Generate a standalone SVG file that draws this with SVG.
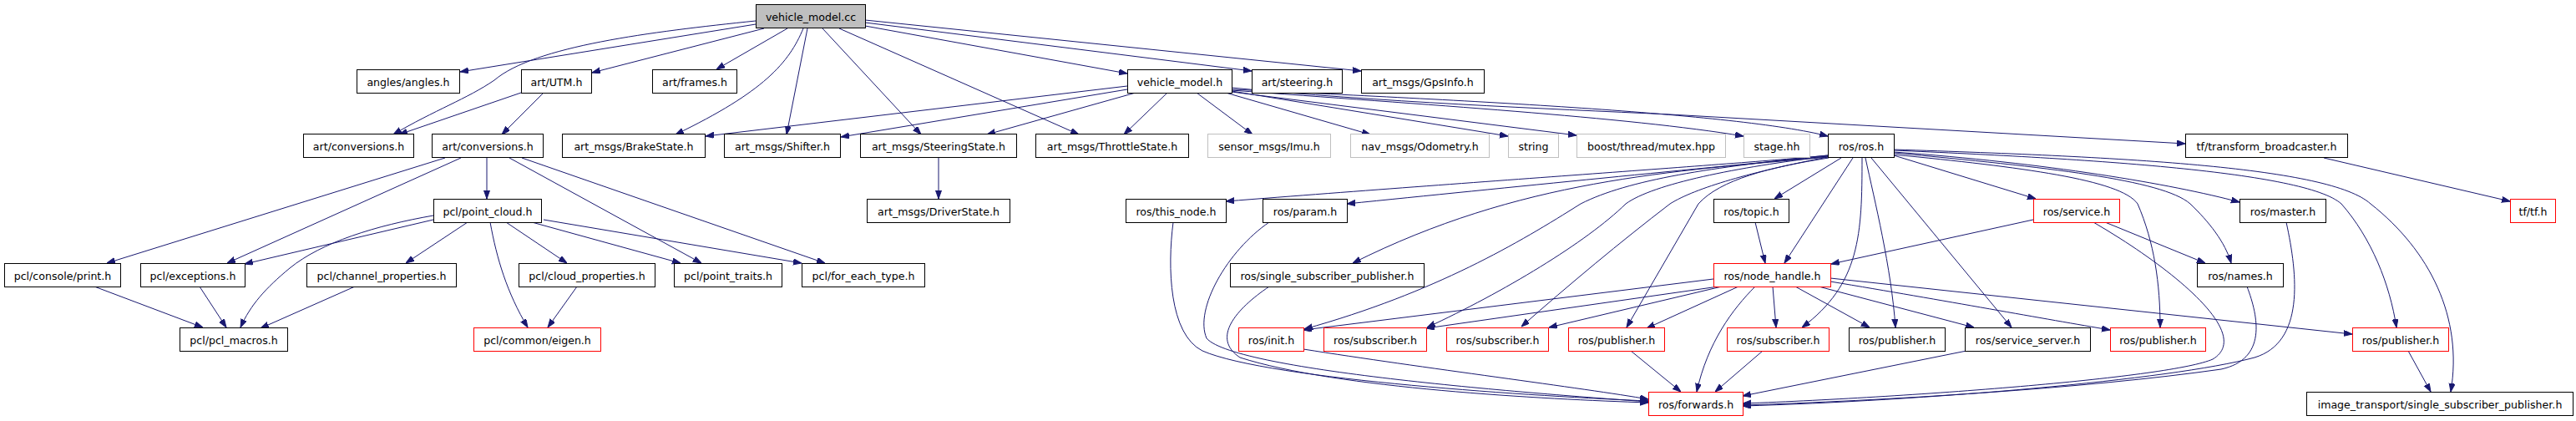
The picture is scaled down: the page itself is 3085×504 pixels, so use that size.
<svg xmlns="http://www.w3.org/2000/svg" width="3085" height="504" viewBox="0 0 3085 504">
<style>
rect{fill:#fff;stroke:#000;stroke-width:1}
.r rect{stroke:#f00}
.g rect{stroke:#bfbfbf}
.root rect{fill:#bfbfbf}
text{font-family:"DejaVu Sans","Liberation Sans",sans-serif;font-size:12.6px;text-anchor:middle;fill:#000}
#edges path{fill:none;stroke:#191970;stroke-width:1;marker-end:url(#a)}
</style>
<defs>
<marker id="a" markerUnits="userSpaceOnUse" markerWidth="10" markerHeight="8" refX="10" refY="3.5" orient="auto">
<path d="M0,0 L10,3.5 L0,7 z" fill="#191970" stroke="#191970" stroke-width="1"/>
</marker>
</defs>
<rect x="0" y="0" width="3085" height="504" style="fill:#fff;stroke:none"/>
<g id="edges">
<path d="M905,25 C780,38 640,55 592,96 C560,118 520,132 471,161"/>
<path d="M905,29 L551,86"/>
<path d="M915,34 L709,87"/>
<path d="M943,34 L858,83"/>
<path d="M962,34 C945,75 915,110 809,161"/>
<path d="M967,34 L942,161"/>
<path d="M985,34 L1103,161"/>
<path d="M1005,34 L1292,161"/>
<path d="M1036,31 L1350,88"/>
<path d="M1036,27 L1499,85"/>
<path d="M1036,24 L1630,85"/>
<path d="M624,111 L478,161"/>
<path d="M650,112 L601,161"/>
<path d="M1350,103 L845,163"/>
<path d="M1350,107 L1007,164"/>
<path d="M1360,111 L1182,161"/>
<path d="M1398,111 L1346,161"/>
<path d="M1433,111 L1500,161"/>
<path d="M1468,111 L1641,161"/>
<path d="M1475,109 L1806,163"/>
<path d="M1475,110 L1888,162"/>
<path d="M1475,108 C1700,125 1950,140 2088,163"/>
<path d="M1475,107 C1750,120 2080,135 2189,163"/>
<path d="M1475,105 C1650,122 1850,130 2000,137 L2617,172"/>
<path d="M533,189 L128,315"/>
<path d="M552,189 L272,315"/>
<path d="M583,189 L583,238"/>
<path d="M610,189 L840,315"/>
<path d="M625,189 L988,315"/>
<path d="M519,263 L293,316"/>
<path d="M519,258 C450,270 385,290 347,321 C318,345 300,365 288,392"/>
<path d="M560,266 L486,315"/>
<path d="M587,266 C595,310 607,350 632,392"/>
<path d="M606,266 L679,315"/>
<path d="M637,266 L815,315"/>
<path d="M651,263 L960,315"/>
<path d="M691,343 L656,392"/>
<path d="M425,343 L312,393"/>
<path d="M113,343 L243,392"/>
<path d="M239,343 L271,392"/>
<path d="M1124,189 L1124,238"/>
<path d="M2189,186 C2100,195 1800,215 1468,241"/>
<path d="M2189,187 C2050,200 1800,225 1613,244"/>
<path d="M2189,188 C2000,205 1820,215 1620,315"/>
<path d="M2189,186 C2050,200 1950,215 1893,244 C1820,290 1720,350 1562,394"/>
<path d="M2189,187 C2080,200 1980,220 1947,244 C1900,290 1800,350 1709,392"/>
<path d="M2189,188 C2100,205 2030,225 2000,244 C1940,290 1880,340 1822,391"/>
<path d="M2190,189 C2120,200 2060,215 2034,244 L1948,392"/>
<path d="M2205,189 L2125,238"/>
<path d="M2219,189 L2137,315"/>
<path d="M2230,189 C2230,280 2228,340 2158,392"/>
<path d="M2234,189 C2245,240 2265,320 2270,392"/>
<path d="M2241,189 L2409,392"/>
<path d="M2268,186 L2438,238"/>
<path d="M2268,182 C2450,195 2600,220 2682,242"/>
<path d="M2268,183 C2450,200 2590,215 2623,244 C2645,265 2665,290 2672,315"/>
<path d="M2268,185 C2420,200 2540,215 2560,244 C2580,290 2587,340 2587,392"/>
<path d="M2268,180 C2500,190 2760,205 2804,244 C2840,285 2862,340 2870,392"/>
<path d="M2268,179 C2550,188 2790,200 2839,244 C2910,300 2950,380 2935,469"/>
<path d="M2102,266 L2114,315"/>
<path d="M2435,263 L2193,316"/>
<path d="M2521,266 L2641,315"/>
<path d="M2507,266 C2600,320 2700,400 2650,430 C2600,452 2300,475 2087,483"/>
<path d="M2691,343 C2705,380 2715,430 2660,442 C2500,465 2250,480 2087,485"/>
<path d="M2738,266 C2752,330 2760,410 2700,428 C2600,455 2300,480 2087,486"/>
<path d="M2052,334 L1561,395"/>
<path d="M2058,343 L1708,393"/>
<path d="M2062,343 L1855,392"/>
<path d="M2082,343 L1972,393"/>
<path d="M2102,343 C2075,370 2045,410 2032,469"/>
<path d="M2123,343 L2127,392"/>
<path d="M2150,343 L2239,392"/>
<path d="M2178,343 L2364,392"/>
<path d="M2192,337 C2330,360 2450,382 2527,395"/>
<path d="M2192,333 L2817,400"/>
<path d="M2111,420 L2054,469"/>
<path d="M2355,420 L2087,474"/>
<path d="M1953,420 L2013,469"/>
<path d="M1561,418 C1700,440 1900,465 1974,478"/>
<path d="M1405,266 C1398,320 1400,400 1440,420 C1520,455 1850,475 1974,480"/>
<path d="M1520,266 C1470,300 1430,370 1445,405 C1480,445 1850,472 1974,481"/>
<path d="M1520,343 C1480,370 1450,405 1485,428 C1600,465 1850,478 1974,482"/>
<path d="M2884,420 L2911,469"/>
<path d="M2783,189 L3006,241"/>
</g>
<g id="vehicle_model_cc" class="root"><rect x="905.5" y="5.5" width="131" height="28"/><text x="971" y="24.5">vehicle_model.cc</text></g>
<g id="angles"><rect x="427.5" y="83.5" width="123" height="28"/><text x="489" y="102.5">angles/angles.h</text></g>
<g id="utm"><rect x="624.5" y="83.5" width="84" height="28"/><text x="666.5" y="102.5">art/UTM.h</text></g>
<g id="frames"><rect x="781.5" y="83.5" width="101" height="28"/><text x="832" y="102.5">art/frames.h</text></g>
<g id="vehicle_model_h"><rect x="1350.5" y="83.5" width="125" height="28"/><text x="1413" y="102.5">vehicle_model.h</text></g>
<g id="steering"><rect x="1499.5" y="83.5" width="108" height="28"/><text x="1553.5" y="102.5">art/steering.h</text></g>
<g id="gpsinfo"><rect x="1630.5" y="83.5" width="147" height="28"/><text x="1704" y="102.5">art_msgs/GpsInfo.h</text></g>
<g id="conversions1"><rect x="363.5" y="160.5" width="132" height="28"/><text x="429.5" y="179.5">art/conversions.h</text></g>
<g id="conversions2"><rect x="517.5" y="160.5" width="133" height="28"/><text x="584" y="179.5">art/conversions.h</text></g>
<g id="brakestate"><rect x="673.5" y="160.5" width="171" height="28"/><text x="759" y="179.5">art_msgs/BrakeState.h</text></g>
<g id="shifter"><rect x="867.5" y="160.5" width="139" height="28"/><text x="937" y="179.5">art_msgs/Shifter.h</text></g>
<g id="steeringstate"><rect x="1030.5" y="160.5" width="187" height="28"/><text x="1124" y="179.5">art_msgs/SteeringState.h</text></g>
<g id="throttlestate"><rect x="1240.5" y="160.5" width="183" height="28"/><text x="1332" y="179.5">art_msgs/ThrottleState.h</text></g>
<g id="imu" class="g"><rect x="1446.5" y="160.5" width="147" height="28"/><text x="1520" y="179.5">sensor_msgs/Imu.h</text></g>
<g id="odometry" class="g"><rect x="1617.5" y="160.5" width="166" height="28"/><text x="1700.5" y="179.5">nav_msgs/Odometry.h</text></g>
<g id="string" class="g"><rect x="1806.5" y="160.5" width="60" height="28"/><text x="1836.5" y="179.5">string</text></g>
<g id="mutex" class="g"><rect x="1888.5" y="160.5" width="178" height="28"/><text x="1977.5" y="179.5">boost/thread/mutex.hpp</text></g>
<g id="stage" class="g"><rect x="2088.5" y="160.5" width="79" height="28"/><text x="2128" y="179.5">stage.hh</text></g>
<g id="ros_ros"><rect x="2189.5" y="160.5" width="79" height="28"/><text x="2229" y="179.5">ros/ros.h</text></g>
<g id="transform_broadcaster"><rect x="2617.5" y="160.5" width="194" height="28"/><text x="2714.5" y="179.5">tf/transform_broadcaster.h</text></g>
<g id="point_cloud"><rect x="519.5" y="238.5" width="129" height="28"/><text x="584" y="257.5">pcl/point_cloud.h</text></g>
<g id="driverstate"><rect x="1038.5" y="238.5" width="171" height="28"/><text x="1124" y="257.5">art_msgs/DriverState.h</text></g>
<g id="this_node"><rect x="1348.5" y="238.5" width="120" height="28"/><text x="1408.5" y="257.5">ros/this_node.h</text></g>
<g id="param"><rect x="1512.5" y="238.5" width="101" height="28"/><text x="1563" y="257.5">ros/param.h</text></g>
<g id="topic"><rect x="2052.5" y="238.5" width="90" height="28"/><text x="2097.5" y="257.5">ros/topic.h</text></g>
<g id="service" class="r"><rect x="2435.5" y="238.5" width="103" height="28"/><text x="2487" y="257.5">ros/service.h</text></g>
<g id="master"><rect x="2682.5" y="238.5" width="103" height="28"/><text x="2734" y="257.5">ros/master.h</text></g>
<g id="tf" class="r"><rect x="3006.5" y="238.5" width="54" height="28"/><text x="3033.5" y="257.5">tf/tf.h</text></g>
<g id="console_print"><rect x="5.5" y="315.5" width="139" height="28"/><text x="75" y="334.5">pcl/console/print.h</text></g>
<g id="exceptions"><rect x="168.5" y="315.5" width="125" height="28"/><text x="231" y="334.5">pcl/exceptions.h</text></g>
<g id="channel_properties"><rect x="367.5" y="315.5" width="179" height="28"/><text x="457" y="334.5">pcl/channel_properties.h</text></g>
<g id="cloud_properties"><rect x="621.5" y="315.5" width="163" height="28"/><text x="703" y="334.5">pcl/cloud_properties.h</text></g>
<g id="point_traits"><rect x="807.5" y="315.5" width="129" height="28"/><text x="872" y="334.5">pcl/point_traits.h</text></g>
<g id="for_each_type"><rect x="960.5" y="315.5" width="147" height="28"/><text x="1034" y="334.5">pcl/for_each_type.h</text></g>
<g id="single_subscriber_publisher"><rect x="1473.5" y="315.5" width="232" height="28"/><text x="1589.5" y="334.5">ros/single_subscriber_publisher.h</text></g>
<g id="node_handle" class="r"><rect x="2052.5" y="315.5" width="140" height="28"/><text x="2122.5" y="334.5">ros/node_handle.h</text></g>
<g id="names"><rect x="2631.5" y="315.5" width="103" height="28"/><text x="2683" y="334.5">ros/names.h</text></g>
<g id="pcl_macros"><rect x="215.5" y="392.5" width="129" height="28"/><text x="280" y="411.5">pcl/pcl_macros.h</text></g>
<g id="eigen" class="r"><rect x="567.5" y="392.5" width="152" height="28"/><text x="643.5" y="411.5">pcl/common/eigen.h</text></g>
<g id="init" class="r"><rect x="1483.5" y="392.5" width="78" height="28"/><text x="1522.5" y="411.5">ros/init.h</text></g>
<g id="subscriber1" class="r"><rect x="1585.5" y="392.5" width="123" height="28"/><text x="1647" y="411.5">ros/subscriber.h</text></g>
<g id="subscriber2" class="r"><rect x="1732.5" y="392.5" width="122" height="28"/><text x="1793.5" y="411.5">ros/subscriber.h</text></g>
<g id="publisher1" class="r"><rect x="1878.5" y="392.5" width="115" height="28"/><text x="1936" y="411.5">ros/publisher.h</text></g>
<g id="subscriber3" class="r"><rect x="2068.5" y="392.5" width="122" height="28"/><text x="2129.5" y="411.5">ros/subscriber.h</text></g>
<g id="publisher2"><rect x="2214.5" y="392.5" width="115" height="28"/><text x="2272" y="411.5">ros/publisher.h</text></g>
<g id="service_server"><rect x="2353.5" y="392.5" width="150" height="28"/><text x="2428.5" y="411.5">ros/service_server.h</text></g>
<g id="publisher3" class="r"><rect x="2527.5" y="392.5" width="114" height="28"/><text x="2584.5" y="411.5">ros/publisher.h</text></g>
<g id="publisher4" class="r"><rect x="2817.5" y="392.5" width="115" height="28"/><text x="2875" y="411.5">ros/publisher.h</text></g>
<g id="forwards" class="r"><rect x="1974.5" y="469.5" width="113" height="28"/><text x="2031" y="488.5">ros/forwards.h</text></g>
<g id="image_transport_ssp"><rect x="2762.5" y="469.5" width="319" height="28"/><text x="2922" y="488.5">image_transport/single_subscriber_publisher.h</text></g>
</svg>
